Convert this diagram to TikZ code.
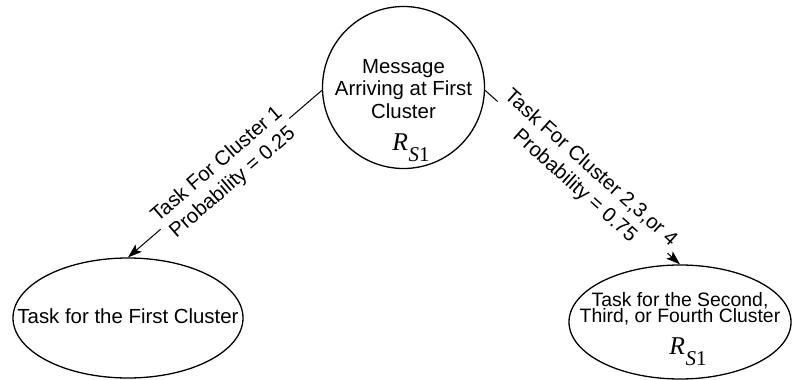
\documentclass[tikz,border=0pt]{standalone}
\usepackage{fontspec}
\setmainfont{Liberation Sans}
\newfontfamily\tnr{Liberation Serif}
\usetikzlibrary{shapes.geometric,arrows.meta}
\pgfdeclarelayer{bg}
\pgfsetlayers{bg,main}
\newcommand{\RSone}{{\fontsize{12.8}{13}\selectfont\tnr\itshape R}\kern0.2pt\raisebox{-5.5pt}{\fontsize{10.5}{10.5}\selectfont\tnr\itshape S\upshape 1}}
\tikzset{
  shapeline/.style={draw, line width=0.65pt, inner sep=0pt},
  conn/.style={draw, line width=0.5pt, -{Stealth[length=7pt,width=4.8pt,inset=1.5pt]}},
  lab/.style={fill=white, align=center, inner sep=1pt, sloped, font=\fontsize{10.2}{12}\selectfont},
  txt/.style={align=center, inner sep=0pt, font=\fontsize{10.2}{11.25}\selectfont},
}
\begin{document}
\begin{tikzpicture}[x=0.5pt,y=-0.5pt]
\useasboundingbox (0,0) rectangle (793,380);
% shapes
\node[shapeline, circle, minimum size=81pt] (c) at (403.5,87.5) {};
\node[shapeline, ellipse, minimum width=115pt, minimum height=60pt] (e1) at (128,318) {};
\node[shapeline, ellipse, minimum width=111pt, minimum height=57pt] (e2) at (680,322) {};
% texts (anchor base = baseline of the last line)
\node[txt, anchor=base] (ct) at (403.5,118) {Message\\Arriving at First\\Cluster};
\node[inner sep=0pt, anchor=base] (cr) at (411,150) {\RSone};
\node[txt, anchor=base] (lt) at (128,323) {Task for the First Cluster};
\node[txt, anchor=base, font=\fontsize{9.7}{7.8}\selectfont, execute at begin node={\lineskiplimit=-20pt}] (rt) at (680,322) {Task for the Second,\\Third, or Fourth Cluster};
\node[inner sep=0pt, anchor=base] (rr) at (688,354) {\RSone};
% connectors
\begin{pgfonlayer}{bg}
\draw[conn] (c.182) -- node[lab] (l1) {Task For Cluster 1\\Probability = 0.25} (e1.north);
\draw[conn] (c.-2) -- node[lab] (l2) {Task For Cluster 2,3,or 4\\Probability = 0.75} (e2.north);
\end{pgfonlayer}
\end{tikzpicture}
\end{document}
